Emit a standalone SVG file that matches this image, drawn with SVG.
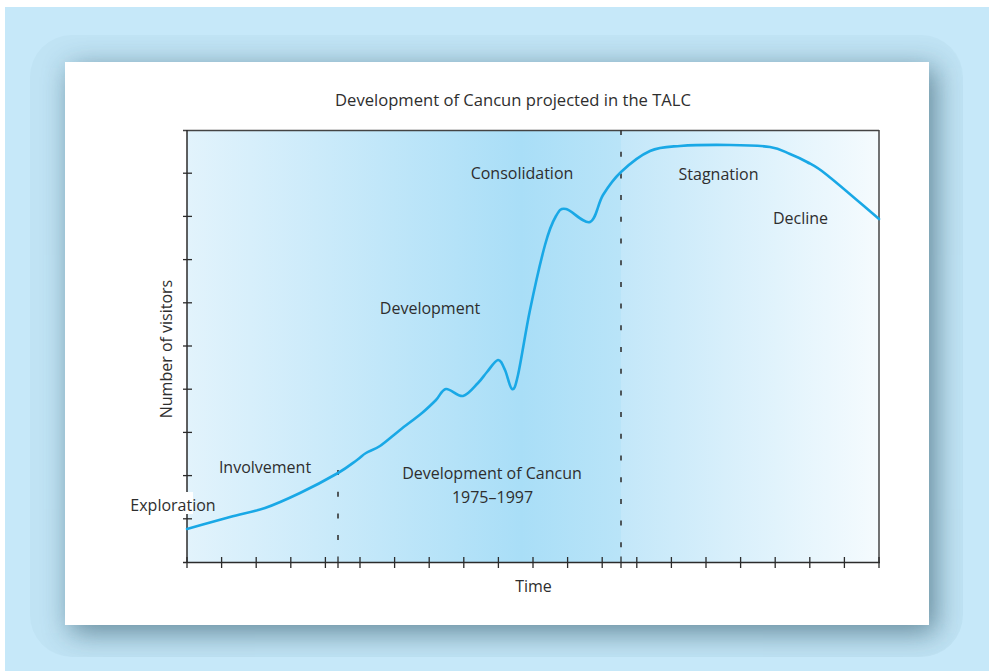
<svg xmlns="http://www.w3.org/2000/svg" width="989" height="671" viewBox="0 0 989 671">
<defs>
<style>
.lbl{font-family:"Open Sans","Liberation Sans",sans-serif;font-size:16px;fill:#2e2e2e;}
.ttl{font-size:16.6px;}
.ax{stroke:#2b2b2b;stroke-width:1.5;fill:none;}
.tk{stroke:#2b2b2b;stroke-width:1.3;}
.dash{stroke:#333;stroke-width:1.6;stroke-dasharray:5 16.7;fill:none;}
.curve{stroke:#19a8e6;stroke-width:2.6;fill:none;stroke-linejoin:round;stroke-linecap:round;}
</style>
<clipPath id="frameClip"><rect x="30" y="35" width="933" height="622" rx="42"/></clipPath>
<filter id="blur" x="-10%" y="-10%" width="120%" height="120%"><feGaussianBlur stdDeviation="14"/></filter>
<linearGradient id="gLeft" x1="187" y1="0" x2="621" y2="0" gradientUnits="userSpaceOnUse">
<stop offset="0" stop-color="#e2f3fc"/>
<stop offset="0.77" stop-color="#a9def7"/>
<stop offset="1" stop-color="#b9e4f8"/>
</linearGradient>
<linearGradient id="gRight" x1="621" y1="0" x2="879" y2="0" gradientUnits="userSpaceOnUse">
<stop offset="0" stop-color="#c3e7f9"/>
<stop offset="1" stop-color="#f5fbfe"/>
</linearGradient>
</defs>

<rect x="0" y="0" width="989" height="671" fill="#ffffff"/>
<rect x="5" y="7" width="984" height="664" fill="#c6e8f9"/>
<g id="frame-shadow" clip-path="url(#frameClip)">
<rect x="30" y="35" width="933" height="622" fill="#c0e3f4"/>
<rect x="70" y="68" width="866" height="565" fill="#2d5466" opacity="0.62" filter="url(#blur)"/>
</g>
<rect id="panel" x="65" y="62" width="864" height="563" fill="#ffffff"/>

<g id="plot-area">
<rect x="187" y="130" width="434" height="432" fill="url(#gLeft)"/>
<rect x="621" y="130" width="258" height="432" fill="url(#gRight)"/>
</g>

<g id="axes">
<line class="ax" x1="183" y1="130.5" x2="879" y2="130.5" style="stroke:#444;stroke-width:1.3"/>
<line class="ax" x1="879" y1="130" x2="879" y2="563" style="stroke:#444"/>
<line class="ax" x1="187" y1="130" x2="187" y2="563"/>
<line class="ax" x1="183" y1="562.5" x2="880" y2="562.5"/>
<g id="y-ticks">
<line class="tk" x1="183" y1="173.2" x2="192" y2="173.2"/>
<line class="tk" x1="183" y1="216.4" x2="192" y2="216.4"/>
<line class="tk" x1="183" y1="259.6" x2="192" y2="259.6"/>
<line class="tk" x1="183" y1="302.8" x2="192" y2="302.8"/>
<line class="tk" x1="183" y1="346" x2="192" y2="346"/>
<line class="tk" x1="183" y1="389.2" x2="192" y2="389.2"/>
<line class="tk" x1="183" y1="432.4" x2="192" y2="432.4"/>
<line class="tk" x1="183" y1="475.6" x2="192" y2="475.6"/>
<line class="tk" x1="183" y1="518.8" x2="192" y2="518.8"/>
</g>
<g id="x-ticks">
<line class="tk" x1="187" y1="557" x2="187" y2="568"/>
<line class="tk" x1="221.6" y1="557" x2="221.6" y2="568"/>
<line class="tk" x1="256.2" y1="557" x2="256.2" y2="568"/>
<line class="tk" x1="290.8" y1="557" x2="290.8" y2="568"/>
<line class="tk" x1="325.4" y1="557" x2="325.4" y2="568"/>
<line class="tk" x1="360" y1="557" x2="360" y2="568"/>
<line class="tk" x1="394.6" y1="557" x2="394.6" y2="568"/>
<line class="tk" x1="429.2" y1="557" x2="429.2" y2="568"/>
<line class="tk" x1="463.8" y1="557" x2="463.8" y2="568"/>
<line class="tk" x1="498.4" y1="557" x2="498.4" y2="568"/>
<line class="tk" x1="533" y1="557" x2="533" y2="568"/>
<line class="tk" x1="567.6" y1="557" x2="567.6" y2="568"/>
<line class="tk" x1="602.2" y1="557" x2="602.2" y2="568"/>
<line class="tk" x1="636.8" y1="557" x2="636.8" y2="568"/>
<line class="tk" x1="671.4" y1="557" x2="671.4" y2="568"/>
<line class="tk" x1="706" y1="557" x2="706" y2="568"/>
<line class="tk" x1="740.6" y1="557" x2="740.6" y2="568"/>
<line class="tk" x1="775.2" y1="557" x2="775.2" y2="568"/>
<line class="tk" x1="809.8" y1="557" x2="809.8" y2="568"/>
<line class="tk" x1="844.4" y1="557" x2="844.4" y2="568"/>
<line class="tk" x1="879" y1="557" x2="879" y2="568"/>
</g>
</g>

<g id="phase-dividers">
<line class="dash" x1="338" y1="470" x2="338" y2="556"/>
<line class="tk" x1="338" y1="556.5" x2="338" y2="568"/>
<line class="dash" x1="621" y1="130" x2="621" y2="556"/>
<line class="tk" x1="621" y1="556.5" x2="621" y2="568"/>
</g>

<g id="connectors">
<path class="curve" d="M187,529 C201.3,525 217,520.5 230,517 C243,513.5 253.3,512 265,508 C276.7,504 287.8,498.8 300,493 C312.2,487.2 328.5,478.5 338,473 C347.5,467.5 352.3,463.3 357,460 C361.7,456.7 362.2,455.3 366,453 C369.8,450.7 374.3,449.8 380,446 C385.7,442.2 393,435.5 400,430 C407,424.5 416,418 422,413 C428,408 432,404 436,400 C440,396 441.5,389.7 446,389 C450.5,388.3 457.7,397 463,396 C468.3,395 474,387 478,383 C482,379 483.7,375.8 487,372 C490.3,368.2 495,360.3 498,360 C501,359.7 502.7,365.2 505,370 C507.3,374.8 509.8,388.2 512,389 C514.2,389.8 515,388.2 518,375 C521,361.8 525.5,331.7 530,310 C534.5,288.3 540.7,260.7 545,245 C549.3,229.3 552.5,222 556,216 C559.5,210 560.3,208 566,209 C571.7,210 583.8,224.3 590,222 C596.2,219.7 597.8,203.3 603,195 C608.2,186.7 613.2,179.3 621,172 C628.8,164.7 640.2,155.3 650,151 C659.8,146.7 666.7,147 680,146 C693.3,145 715,144.8 730,145 C745,145.2 760,145.5 770,147 C780,148.5 783.8,151.5 790,154 C796.2,156.5 800.8,158.5 807,162 C813.2,165.5 815,165.5 827,175 C839,184.5 861.7,204.3 879,219"/>
</g>

<g id="title"><text class="lbl ttl" x="513" y="106" text-anchor="middle">Development of Cancun projected in the TALC</text></g>
<g id="exploration">
<rect x="127" y="492" width="66" height="22" fill="#ffffff"/>
<text class="lbl" x="173" y="511" text-anchor="middle">Exploration</text>
</g>
<g id="involvement"><text class="lbl" x="265" y="473" text-anchor="middle">Involvement</text></g>
<g id="development"><text class="lbl" x="430" y="314" text-anchor="middle">Development</text></g>
<g id="consolidation"><text class="lbl" x="522" y="179" text-anchor="middle">Consolidation</text></g>
<g id="stagnation"><text class="lbl" x="718.5" y="180" text-anchor="middle">Stagnation</text></g>
<g id="decline"><text class="lbl" x="800.5" y="224" text-anchor="middle">Decline</text></g>
<g id="cancun-period">
<text class="lbl" x="492" y="479" text-anchor="middle">Development of Cancun</text>
<text class="lbl" x="492.5" y="503" text-anchor="middle">1975–1997</text>
</g>
<g id="x-label"><text class="lbl" x="533.5" y="592" text-anchor="middle">Time</text></g>
<g id="y-label"><text class="lbl" transform="translate(172,349) rotate(-90)" x="0" y="0" text-anchor="middle">Number of visitors</text></g>
</svg>
